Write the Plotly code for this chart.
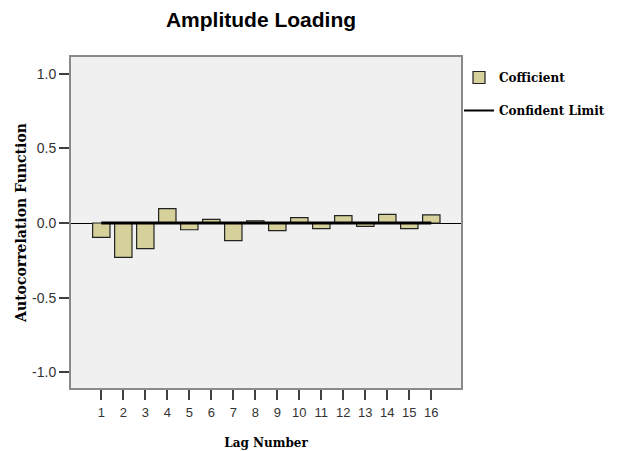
import plotly.graph_objects as go

lags = [1, 2, 3, 4, 5, 6, 7, 8, 9, 10, 11, 12, 13, 14, 15, 16]
coefficients = [-0.096, -0.230, -0.172, 0.096, -0.045, 0.025, -0.118, 0.015,
                -0.051, 0.036, -0.038, 0.049, -0.022, 0.058, -0.038, 0.054]
upper_limit = [0.003, 0.003, 0.003, 0.003, 0.003, 0.003, 0.003, 0.003,
               0.003, 0.003, 0.003, 0.003, 0.003, 0.003, 0.003, 0.003]
lower_limit = [-0.003, -0.003, -0.003, -0.003, -0.003, -0.003, -0.003, -0.003,
               -0.003, -0.003, -0.003, -0.003, -0.003, -0.003, -0.003, -0.003]
y_ticks = [-1.0, -0.5, 0.0, 0.5, 1.0]
y_tick_labels = ["-1.0", "-0.5", "0.0", "0.5", "1.0"]

serif = "DejaVu Serif"
sans = "Liberation Sans, Arial, sans-serif"

fig = go.Figure()
fig.add_trace(go.Bar(
    x=lags, y=coefficients, name="Cofficient",
    marker=dict(color="#d6d09a", line=dict(color="#222222", width=1.2)),
    legend="legend", showlegend=True,
))
fig.add_trace(go.Scatter(
    x=lags, y=upper_limit, mode="lines", name="Confident Limit",
    line=dict(color="black", width=2), legend="legend2", showlegend=True,
))
fig.add_trace(go.Scatter(
    x=lags, y=lower_limit, mode="lines", name="Confident Limit",
    line=dict(color="black", width=2), legend="legend2", showlegend=False,
))

fig.update_layout(
    width=624, height=451,
    margin=dict(l=71, r=163, t=57, b=63, autoexpand=False),
    paper_bgcolor="white", plot_bgcolor="#f0f0f0",
    bargap=0.21,
    showlegend=True,
    title=dict(text="Amplitude Loading", x=261/624, xref="container",
               xanchor="center", y=1 - 19.5/451, yref="container", yanchor="middle",
               font=dict(family=sans, size=21, color="black", weight="bold")),
    xaxis=dict(range=[-0.378, 17.35], tickvals=lags, ticktext=[str(v) for v in lags],
               ticks="outside", ticklen=10, tickwidth=1.5, tickcolor="#404040",
               showline=True, mirror=True, linecolor="#8a8a8a", linewidth=2,
               showgrid=False, zeroline=False, automargin=False,
               ticklabelstandoff=1,
               tickfont=dict(family=sans, size=13, color="#333333"),
               title=dict(text="Lag Number", standoff=20,
                          font=dict(family=serif, size=12, color="black", weight="bold"))),
    yaxis=dict(range=[-1.105, 1.112], tickvals=y_ticks, ticktext=y_tick_labels,
               ticks="outside", ticklen=10, tickwidth=1.5, tickcolor="#404040",
               showline=True, mirror=True, linecolor="#8a8a8a", linewidth=2,
               showgrid=False, zeroline=True, zerolinecolor="black", zerolinewidth=1,
               automargin=False,
               tickfont=dict(family=sans, size=14, color="#333333"),
               title=dict(text="Autocorrelation Function", standoff=2,
                          font=dict(family=serif, size=14, color="black", weight="bold"))),
    legend=dict(x=459/624, xref="container", xanchor="left",
                y=1 - 63/451, yref="container", yanchor="top",
                bgcolor="rgba(0,0,0,0)", borderwidth=0,
                font=dict(family=serif, size=12, color="black", weight="bold")),
    legend2=dict(x=459/624, xref="container", xanchor="left",
                 y=1 - 96/451, yref="container", yanchor="top",
                 bgcolor="rgba(0,0,0,0)", borderwidth=0,
                 font=dict(family=serif, size=12, color="black", weight="bold")),
)

fig.write_html("out.html", config={"displayModeBar": False},
               post_script="document.body.style.margin='0';document.body.style.overflow='hidden';")
